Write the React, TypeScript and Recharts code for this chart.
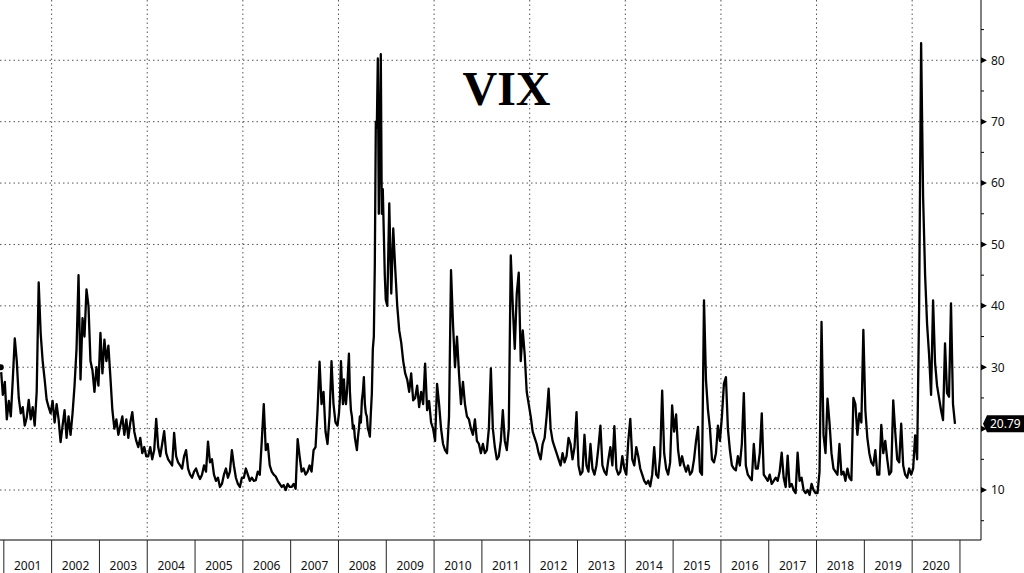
import { CartesianGrid, Line, LineChart, ReferenceLine, XAxis, YAxis } from "recharts"

// VIX, two readings a month (first / second half)
const vix2000 = [30, 25.5] // December 2000
const vix2001 = [27.6, 21.5, 24.5, 22, 28, 34.7, 31, 25, 22.5, 23.5, 20.5, 21.8, 24.7, 21.5, 23.5, 20.5, 26, 43.8, 35.5, 31, 28, 24.7, 23.5, 22.5]
const vix2002 = [24.5, 21, 24, 21.5, 17.8, 20.5, 23, 18.5, 22, 19, 22.5, 27, 33, 45, 28, 38, 35, 42.7, 40, 31, 29.5, 26, 30, 27]
const vix2003 = [35.6, 29, 34.5, 31, 33.5, 28.4, 23, 20, 21.5, 19, 20.5, 22, 19, 21.5, 18.5, 21, 22.7, 19.5, 18, 17, 18.5, 16, 17, 15.5]
const vix2004 = [15.5, 17, 15, 16.5, 21.6, 17, 15.5, 17.5, 19.6, 16, 15, 14.5, 14, 19.3, 15.5, 14.5, 14, 13.5, 15.5, 16.5, 13.5, 12.5, 12, 13]
const vix2005 = [13.5, 12.5, 11.8, 12.5, 14, 13, 17.9, 14.5, 15, 12.5, 11.5, 12, 10.5, 11, 12.5, 13.5, 12, 13, 16.5, 14, 12, 11, 10.5, 12]
const vix2006 = [12, 13.5, 12.5, 11.5, 12, 11.5, 11.6, 13, 12.5, 18, 24, 16.5, 17.5, 14, 13, 12.5, 12.2, 11.5, 11, 10.5, 10.8, 10, 11, 10.5]
const vix2007 = [10.5, 11, 10.2, 18.3, 15.5, 13, 13.5, 12.5, 13, 14, 13, 16.5, 17, 23, 30.9, 24, 26, 19.5, 17.5, 22, 31, 24, 21, 20.5]
// 2008: four readings a month
const vix2008 = [
  22.5, 25, 31, 27, 24, 28, 25, 24, 26, 29, 32.2, 26, 23, 22, 20, 20.5,
  18.5, 17.5, 16.5, 18.5, 20, 22, 21, 24.6, 26, 28.4, 24, 22.5, 22, 20, 19.5, 18.7,
  22.5, 25.7, 33, 35, 46.9, 70, 69, 80.3, 55, 66, 81, 55, 59, 52, 45, 41,
]
const vix2009 = [40, 56.7, 42, 52.6, 46, 40, 36, 34, 31, 29, 28, 26, 29, 24.6, 25, 27, 23.5, 26, 24, 30.6, 23, 24.5, 21, 20]
const vix2010 = [18, 27.3, 24, 20, 17.5, 16.5, 16, 22, 45.8, 37, 30, 35, 29, 24, 27.6, 24, 22, 21.5, 20, 19, 21.5, 18, 17.5, 16]
const vix2011 = [17.5, 16, 16.5, 20, 29.8, 20, 17, 15, 15.5, 18, 23, 18, 16.5, 20, 48.2, 40, 33, 42, 45.4, 31, 36, 32, 26, 24]
const vix2012 = [22, 19.5, 18.5, 17.5, 16, 15, 17.5, 18.5, 22, 26.5, 20, 18, 17, 16, 15, 14, 16, 14.5, 15.5, 18.5, 17.5, 15, 17, 22.7]
const vix2013 = [14, 12.5, 13, 19, 14, 13, 17.5, 13.5, 12.5, 14, 17, 20.5, 14, 13, 12.5, 15, 17, 14, 20.4, 13.5, 12.5, 13, 15.5, 13.5]
const vix2014 = [12.5, 18, 21.6, 15, 14, 17, 15.5, 13.5, 12.5, 11.5, 11, 11.5, 10.6, 12.5, 17, 12.5, 12, 15.5, 26.2, 16, 13.5, 12.5, 14.5, 23.8]
const vix2015 = [19.5, 22.3, 16.5, 14, 15.5, 14, 13, 14, 12.5, 13, 15, 18, 20.3, 13, 12.5, 40.9, 27.9, 23, 20, 15, 14.5, 16, 20.5, 18]
const vix2016 = [22, 27.3, 28.4, 20, 16.5, 14, 13.5, 13.2, 15.5, 14, 17.5, 25.8, 14, 12.5, 12, 11.6, 17.5, 13.5, 13.5, 16, 22.5, 12.5, 12, 11.5]
const vix2017 = [12.5, 11, 11.5, 12, 11.5, 13, 16.1, 12, 10.5, 15.6, 10.5, 11, 10, 9.5, 16.1, 11.5, 12, 10, 9.5, 10, 9.2, 11, 10, 9.5]
const vix2018 = [9.5, 13, 37.4, 19, 16, 24.9, 21, 16, 13.5, 13, 12.5, 17.5, 12.5, 13, 11.5, 13.5, 12, 11.6, 25, 24, 19, 22.5, 21, 36.1]
const vix2019 = [23, 18.5, 16, 14.5, 14, 16.5, 12.5, 12.5, 20.6, 16, 18, 15, 12.5, 13, 24.6, 19.5, 15, 14.5, 20.8, 14, 12.5, 12, 13.5, 12.5]
const vix2020 = [13.5, 18.9, 15, 39.8, 82.8, 57.7, 45, 37, 32, 25.5, 40.9, 30.7, 27, 25, 23, 21.4, 33.9, 25.8, 25.2, 40.4, 24, 20.79] // to late Nov

const yearTicks = [2001, 2002, 2003, 2004, 2005, 2006, 2007, 2008, 2009, 2010, 2011, 2012, 2013, 2014, 2015, 2016, 2017, 2018, 2019, 2020, 2021]
const gridYears = [2002, 2004, 2006, 2008, 2010, 2012, 2014, 2016, 2018, 2020]
const valueTicks = [5, 10, 15, 20, 25, 30, 35, 40, 45, 50, 55, 60, 65, 70, 75, 80, 85]
const gridValues = [10, 20, 30, 40, 50, 60, 70, 80]
const lastValue = 20.79

// [year, values, index of first reading, readings per year]
const series: [number, number[], number, number][] = [
  [2000, vix2000, 22, 24], [2001, vix2001, 0, 24], [2002, vix2002, 0, 24], [2003, vix2003, 0, 24],
  [2004, vix2004, 0, 24], [2005, vix2005, 0, 24], [2006, vix2006, 0, 24], [2007, vix2007, 0, 24],
  [2008, vix2008, 0, 48], [2009, vix2009, 0, 24], [2010, vix2010, 0, 24], [2011, vix2011, 0, 24],
  [2012, vix2012, 0, 24], [2013, vix2013, 0, 24], [2014, vix2014, 0, 24], [2015, vix2015, 0, 24],
  [2016, vix2016, 0, 24], [2017, vix2017, 0, 24], [2018, vix2018, 0, 24], [2019, vix2019, 0, 24],
  [2020, vix2020, 0, 24],
]
const data = series.flatMap(([year, vals, start, per]) =>
  vals.map((v, i) => ({ t: year + (start + i + 0.5) / per, v }))
)

const W = 1024
const H = 573
const AXIS_W = 43
const AXIS_H = 33
const X_MIN = 2000.92
const X_MAX = 2021.44
const Y_MIN = 1.86
const Y_MAX = 89.82
const FONT = "'Noto Sans', sans-serif"

function YearTick({ x, y, payload }: any) {
  const yearPx = (W - AXIS_W) / (X_MAX - X_MIN)
  return (
    <g>
      <line x1={x} x2={x} y1={y} y2={y + AXIS_H} stroke="#222" />
      {payload.value < 2021 && (
        <text x={x + yearPx / 2} y={y + 29.5} textAnchor="middle" fontSize={12} fontFamily={FONT} fill="#111">
          {payload.value}
        </text>
      )}
    </g>
  )
}

function ValueTick({ x, y, payload }: any) {
  if (payload.value % 10 !== 0) {
    return <line x1={x} x2={x + 3} y1={y} y2={y} stroke="#000" />
  }
  return (
    <g>
      <path d={`M${x},${y - 3}L${x + 6},${y}L${x},${y + 3}Z`} fill="#000" />
      {payload.value !== 20 && (
        <text x={x + 10} y={y} dy="0.36em" fontSize={12} fontFamily={FONT} fill="#111">
          {payload.value}
        </text>
      )}
    </g>
  )
}

function lastLabel(props: any) {
  const vb = props.viewBox
  if (!vb) return null
  const tip = vb.x + vb.width + 2
  const y = vb.y
  return (
    <g>
      <path d={`M${tip},${y}L${tip + 4},${y - 8.5}L${W},${y - 8.5}L${W},${y + 8.5}L${tip + 4},${y + 8.5}Z`} fill="#000" />
      <text x={tip + 7} y={y} dy="0.36em" fontSize={12} fontFamily={FONT} fill="#fff">
        {lastValue.toFixed(2)}
      </text>
    </g>
  )
}

export default function App() {
  return (
    <div style={{ position: "absolute", left: 0, top: 0, width: W, height: H, background: "#fff" }}>
      <LineChart width={W} height={H} data={data} margin={{ top: 0, right: 0, bottom: 0, left: 0 }}>
        <CartesianGrid
          horizontalValues={gridValues}
          verticalValues={gridYears}
          stroke="#555"
          strokeDasharray="1.5 3"
        />
        <XAxis
          dataKey="t"
          type="number"
          domain={[X_MIN, X_MAX]}
          allowDataOverflow
          ticks={yearTicks}
          interval={0}
          height={AXIS_H}
          tickSize={0}
          tickMargin={0}
          tickLine={false}
          axisLine={{ stroke: "#000" }}
          tick={(p: any) => <YearTick {...p} />}
        />
        <YAxis
          orientation="right"
          type="number"
          width={AXIS_W}
          domain={[Y_MIN, Y_MAX]}
          allowDataOverflow
          ticks={valueTicks}
          interval={0}
          tickSize={0}
          tickMargin={0}
          tickLine={false}
          axisLine={{ stroke: "#000" }}
          tick={(p: any) => <ValueTick {...p} />}
        />
        <Line
          type="linear"
          dataKey="v"
          stroke="#000"
          strokeWidth={2.3}
          strokeLinejoin="round"
          dot={false}
          isAnimationActive={false}
        />
        <ReferenceLine y={lastValue} strokeOpacity={0} label={lastLabel} />
      </LineChart>
      <svg width={W} height={H} style={{ position: "absolute", left: 0, top: 0, pointerEvents: "none" }}>
        <text x={506.5} y={105} textAnchor="middle" fontSize={48} fontWeight="bold" fontFamily="'Liberation Serif', serif" fill="#000">
          VIX
        </text>
      </svg>
    </div>
  )
}
